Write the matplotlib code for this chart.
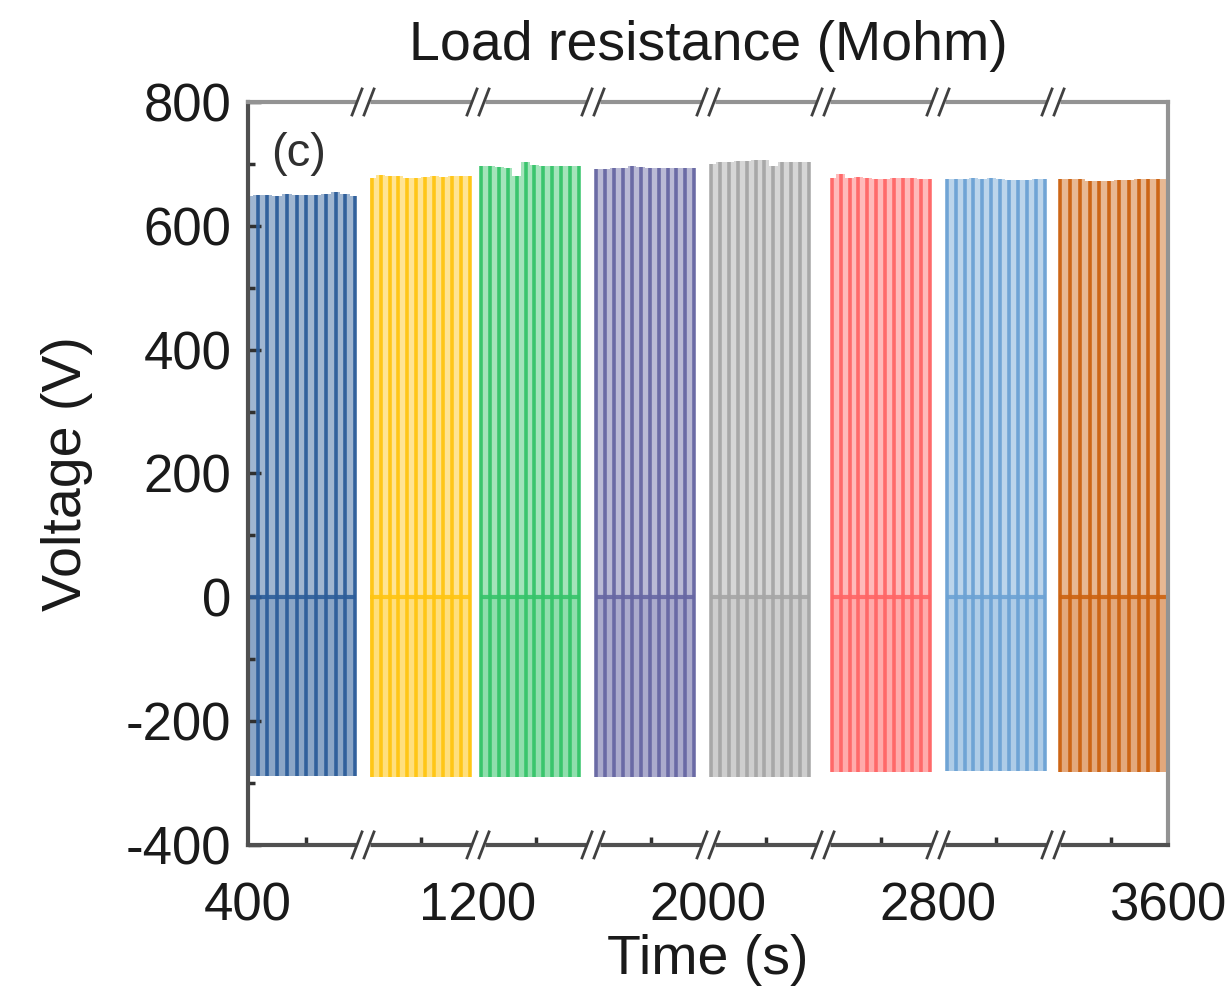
#!/usr/bin/env python3
"""
Voltage output pulses under different load resistances (broken time axis).
"""

import matplotlib
matplotlib.use("Agg")
import matplotlib.pyplot as plt
import matplotlib.transforms as mtransforms
import numpy as np

plt.rcParams['font.family'] = ['Liberation Sans', 'DejaVu Sans']
plt.rcParams['axes.unicode_minus'] = False

# group windows (s) and colours
group_start = [400, 830, 1212, 1612, 2012, 2430, 2830, 3225]
group_end = [772, 1172, 1550, 1952, 2350, 2772, 3172, 3600]
colors = ['#2c5d9a', '#ffc512', '#36c46a', '#6767a3',
          '#a6a6a6', '#ff6666', '#6ca2d4', '#cc6210']

# positive peak of each pulse (V)
pos_peaks = [
    [648, 650, 649, 648, 651, 650, 649, 650, 652, 655, 651, 648],
    [677, 682, 681, 680, 678, 678, 679, 680, 679, 680, 681, 681],
    [696, 697, 695, 694, 680, 703, 698, 696, 696, 697, 696, 696],
    [692, 692, 693, 694, 697, 695, 694, 694, 694, 693, 693, 693],
    [700, 703, 703, 704, 705, 706, 707, 697, 703, 703, 703, 703],
    [678, 683, 678, 679, 677, 676, 676, 677, 677, 677, 676, 676],
    [675, 675, 676, 677, 676, 678, 676, 674, 674, 674, 675, 675],
    [675, 675, 675, 673, 673, 673, 674, 674, 675, 675, 675, 675],
]
# negative peak of each group (V)
neg_peaks = [-289, -290, -291, -291, -291, -282, -281, -282]

breaks = [800, 1200, 1600, 2000, 2400, 2800, 3200]
xtick_labels = [400, 1200, 2000, 2800, 3600]
xminor = [600, 1000, 1400, 1800, 2200, 2600, 3000, 3400]

fig = plt.figure(figsize=(12.29, 9.94), dpi=100)
ax = fig.add_axes([0.2018, 0.150, 0.7486, 0.7474])

for i in range(len(colors)):
    c = colors[i]
    t = np.linspace(group_start[i], group_end[i], len(pos_peaks[i]))
    # light background columns
    edges = np.append(t - (t[1] - t[0]) / 2, t[-1] + (t[1] - t[0]) / 2)
    edges = np.clip(edges, group_start[i] - 4, group_end[i] + 4)
    for k in range(len(t)):
        ax.fill_between([edges[k], edges[k + 1]], 0, pos_peaks[i][k],
                        color=c, alpha=0.45, lw=0)
    ax.fill_between([edges[0], edges[-1]], neg_peaks[i], 0,
                    color=c, alpha=0.55, lw=0)
    # pulse lines
    ax.vlines(t, neg_peaks[i], pos_peaks[i], color=c, lw=2.6, alpha=0.95)
    ax.hlines(0, edges[0], edges[-1], color=c, lw=3, alpha=0.9)

ax.set_xlim(400, 3600)
ax.set_ylim(-400, 800)

ax.set_yticks([-400, -200, 0, 200, 400, 600, 800])
ax.set_yticks([-300, -100, 100, 300, 500, 700], minor=True)
ax.set_xticks(xtick_labels)
ax.set_xticklabels([str(v) for v in xtick_labels])
ax.set_xticks(xminor, minor=True)

ax.tick_params(axis='both', which='both', direction='in', labelsize=38,
               width=2.5, color='#303030', labelcolor='#1a1a1a')
ax.tick_params(axis='y', which='major', length=9, pad=12)
ax.tick_params(axis='y', which='minor', length=5)
ax.tick_params(axis='x', which='major', length=0, pad=26)
ax.tick_params(axis='x', which='minor', length=6)

for side in ['left', 'bottom']:
    ax.spines[side].set_color('#505050')
    ax.spines[side].set_linewidth(3)
for side in ['top', 'right']:
    ax.spines[side].set_color('#939393')
    ax.spines[side].set_linewidth(3)

ax.set_ylabel('Voltage (V)', fontsize=40, labelpad=24, color='#1a1a1a')
ax.set_xlabel('Time (s)', fontsize=40, labelpad=2, color='#1a1a1a')
ax.set_title('Load resistance (Mohm)', fontsize=40, pad=30, color='#1a1a1a')
ax.text(0.025, 0.96, '(c)', transform=ax.transAxes, fontsize=34,
        ha='left', va='top', color='#303030')

# break marks on top and bottom spines
px_x = 3200 / (0.7486 * 1229)
px_y = 1 / (0.7474 * 994)
trans = mtransforms.blended_transform_factory(ax.transData, ax.transAxes)
for b in breaks:
    for yy in [0, 1]:
        ax.plot([b - 7 * px_x, b + 7 * px_x], [yy, yy], color='white', lw=5,
                transform=trans, clip_on=False, zorder=6,
                solid_capstyle='butt')
        for d in [-6, 6]:
            ax.plot([b + (d - 5) * px_x, b + (d + 5) * px_x],
                    [yy - 13 * px_y, yy + 13 * px_y], color='#404040', lw=2,
                    transform=trans, clip_on=False, zorder=7)

fig.savefig('out.png', dpi=100)
